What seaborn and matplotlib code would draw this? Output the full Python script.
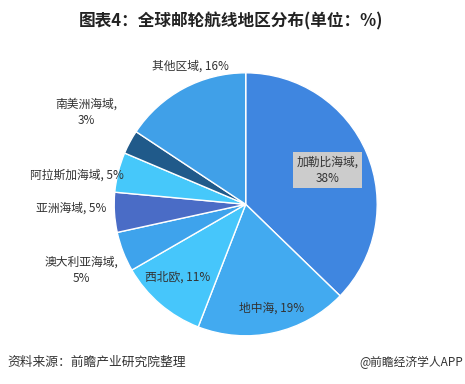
import matplotlib
matplotlib.use("Agg")
import matplotlib.pyplot as plt
import seaborn as sns

sns.set_theme(style="white")
plt.rcParams['font.family'] = ['Noto Sans CJK SC', 'DejaVu Sans']

regions = ["加勒比海域", "地中海", "西北欧", "澳大利亚海域", "亚洲海域", "阿拉斯加海域", "南美洲海域", "其他区域"]
shares = [38, 19, 11, 5, 5, 5, 3, 16]
label_texts = ["加勒比海域,\n38%", "地中海, 19%", "西北欧, 11%", "澳大利亚海域,\n5%",
               "亚洲海域, 5%", "阿拉斯加海域, 5%", "南美洲海域,\n3%", "其他区域, 16%"]

colors = ["#3f86e0", "#42aaf0", "#46c6fb", "#3ea3ec", "#4a6cc6", "#46c8fa", "#205a8a", "#40a0e8"]
label_pos = [(0.62, 0.26), (0.20, -0.79), (-0.52, -0.555), (-1.25, -0.50),
             (-1.33, -0.03), (-1.28, 0.22), (-1.21, 0.70), (-0.42, 1.05)]

fig = plt.figure(figsize=(4.65, 3.84), dpi=100)
fig.patch.set_facecolor("white")
ax = fig.add_axes([0.2456, 0.1255, 0.5656, 0.6849])
wedges, _ = ax.pie(shares, colors=colors, startangle=90, counterclock=False,
                   wedgeprops=dict(edgecolor="white", linewidth=1))
ax.set_xlim(-1, 1)
ax.set_ylim(-1, 1)
ax.set_aspect("auto")
ax.axis("off")

for i, (txt, (x, y)) in enumerate(zip(label_texts, label_pos)):
    kw = {}
    if i == 0:
        kw["bbox"] = dict(boxstyle="square,pad=0.3", facecolor="#cccccc", edgecolor="none")
    ax.text(x, y, txt, ha="center", va="center", fontsize=8.5, color="#333333",
            linespacing=1.35, clip_on=False, **kw)

fig.text(0.497, 0.945, "图表4：全球邮轮航线地区分布(单位：%)", ha="center", va="center",
         fontsize=12, fontweight="bold", color="#222222")
fig.text(0.015, 0.057, "资料来源：前瞻产业研究院整理", ha="left", va="center",
         fontsize=9.2, color="#333333")
fig.text(0.997, 0.057, "@前瞻经济学人APP", ha="right", va="center",
         fontsize=8.5, color="#333333")

fig.savefig("out.png", dpi=100, facecolor="white")
